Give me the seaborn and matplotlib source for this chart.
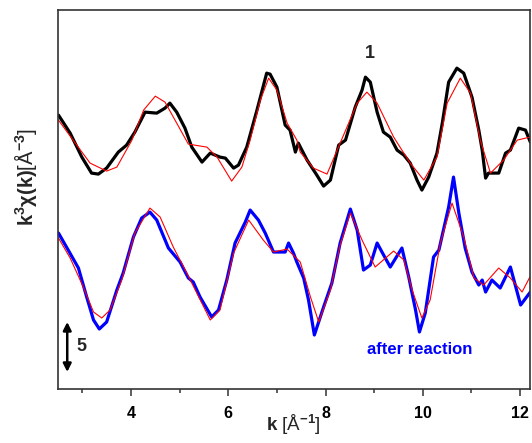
import numpy as np
import pandas as pd
import matplotlib
matplotlib.use("Agg")
import matplotlib.pyplot as plt
import seaborn as sns

# sample 1 (top) data and fit
k_top = [2.51, 2.75, 2.99, 3.19, 3.33, 3.50, 3.74, 3.91, 4.08, 4.29, 4.53, 4.70, 4.80, 4.94,
         5.11, 5.25, 5.46, 5.63, 5.83, 5.94, 6.11, 6.21, 6.38, 6.59, 6.79, 6.86, 7.00, 7.17,
         7.27, 7.38, 7.44, 7.62, 7.82, 7.96, 8.10, 8.27, 8.41, 8.61, 8.75, 8.82, 8.92, 9.06,
         9.19, 9.33, 9.47, 9.61, 9.74, 9.88, 9.98, 10.12, 10.29, 10.40, 10.53, 10.70, 10.84,
         11.01, 11.15, 11.22, 11.29, 11.35, 11.56, 11.70, 11.80, 11.97, 12.11, 12.21]
y_top = [27.4, 25.6, 23.2, 21.6, 21.5, 22.1, 23.7, 24.4, 25.7, 27.7, 27.6, 28.1, 28.6, 27.7,
         26.1, 24.2, 22.7, 23.6, 23.2, 23.1, 22.1, 22.4, 24.2, 27.9, 31.6, 31.5, 30.2, 26.4,
         25.9, 23.7, 24.6, 22.9, 21.4, 20.3, 20.9, 24.4, 24.9, 28.2, 29.9, 31.2, 30.7, 27.7,
         25.7, 25.2, 23.9, 23.4, 22.6, 20.9, 19.9, 21.2, 23.6, 26.6, 30.7, 32.1, 31.6,
         29.2, 25.9, 23.9, 21.1, 21.6, 21.6, 23.6, 23.9, 26.1, 25.9, 24.7]

k_top_fit = [2.51, 2.81, 3.16, 3.50, 3.71, 4.02, 4.26, 4.50, 4.70, 4.94, 5.18, 5.56, 5.77,
             6.07, 6.28, 6.45, 6.66, 6.83, 7.00, 7.21, 7.41, 7.48, 7.75, 8.03, 8.30, 8.65,
             8.85, 9.06, 9.40, 9.74, 10.02, 10.29, 10.50, 10.77, 10.98, 11.18, 11.39, 11.66,
             11.94, 12.20]
y_top_fit = [26.9, 24.9, 22.6, 21.8, 22.2, 24.9, 27.9, 29.3, 28.7, 26.6, 24.5, 24.2, 23.2,
             20.8, 22.2, 24.9, 28.9, 31.1, 29.9, 26.6, 24.9, 23.7, 22.1, 21.5, 24.6, 28.6,
             29.7, 28.6, 25.2, 22.6, 20.9, 23.2, 28.6, 31.1, 29.6, 24.9, 21.6, 22.9,
             24.9, 25.2]

# after reaction (bottom) data and fit
k_bot = [2.51, 2.71, 2.92, 3.09, 3.23, 3.35, 3.50, 3.71, 3.84, 4.05, 4.22, 4.39, 4.53, 4.77,
         5.01, 5.18, 5.28, 5.42, 5.66, 5.80, 5.97, 6.14, 6.35, 6.45, 6.62, 6.76, 6.93, 7.17,
         7.24, 7.34, 7.41, 7.55, 7.65, 7.77, 7.96, 8.13, 8.30, 8.51, 8.65, 8.78, 8.92, 9.06,
         9.16, 9.33, 9.57, 9.71, 9.85, 9.93, 10.05, 10.22, 10.33, 10.53, 10.63, 10.74, 10.87,
         11.01, 11.15, 11.22, 11.29, 11.42, 11.59, 11.80, 12.01, 12.21]
y_bot = [15.6, 13.9, 12.1, 9.2, 6.9, 6.0, 6.7, 9.9, 11.6, 15.2, 17.1, 17.7, 16.9, 14.1,
         12.7, 11.1, 10.7, 9.2, 7.2, 7.9, 10.9, 14.6, 16.7, 17.9, 16.9, 15.6, 13.7, 13.7,
         14.6, 13.6, 12.7, 11.1, 8.9, 5.4, 8.2, 10.6, 14.6, 18.0, 15.9, 11.9, 12.4, 14.6,
         13.7, 12.2, 14.1, 11.2, 7.9, 5.7, 7.6, 13.2, 13.9, 18.2, 21.2, 17.6, 14.1,
         11.7, 10.4, 10.9, 9.7, 10.9, 10.1, 12.2, 8.4, 9.7]

k_bot_fit = [2.51, 2.75, 3.02, 3.23, 3.40, 3.57, 3.81, 4.08, 4.39, 4.60, 4.87, 5.22, 5.63,
             5.83, 6.11, 6.42, 6.72, 6.93, 7.21, 7.48, 7.69, 7.86, 8.10, 8.30, 8.51, 8.75,
             9.02, 9.40, 9.61, 9.78, 9.98, 10.15, 10.36, 10.60, 10.84, 11.05, 11.25, 11.56,
             11.80, 12.04, 12.20]
y_bot_fit = [15.1, 13.1, 10.2, 7.7, 7.1, 7.9, 10.9, 15.6, 18.1, 17.2, 14.2, 10.9, 6.9,
             7.9, 13.6, 16.9, 14.9, 13.7, 14.0, 12.7, 9.2, 6.7, 9.9, 14.4, 17.6, 14.9,
             12.2, 13.8, 12.9, 9.9, 7.1, 8.9, 14.6, 18.6, 15.2, 11.1, 10.4, 12.1,
             11.1, 9.7, 11.2]

x_ticks = [4, 6, 8, 10, 12]

plt.rcParams["mathtext.fontset"] = "custom"
plt.rcParams["mathtext.rm"] = "Liberation Sans"
plt.rcParams["mathtext.bf"] = "Liberation Sans:bold"
plt.rcParams["mathtext.it"] = "Liberation Sans:italic"

sns.set_style("ticks")
plt.rcParams["font.family"] = ["Liberation Sans", "DejaVu Sans"]

fig = plt.figure(figsize=(5.32, 4.43), dpi=100)
ax = fig.add_axes([0.109, 0.122, 0.887, 0.855])

series = [
    (k_top, y_top, "black", 2.3),
    (k_top_fit, y_top_fit, "red", 0.8),
    (k_bot, y_bot, "#0000ff", 2.3),
    (k_bot_fit, y_bot_fit, "red", 0.8),
]
for kk, yy, col, lw in series:
    df = pd.DataFrame({"k": kk, "y": yy})
    sns.lineplot(data=df, x="k", y="y", ax=ax, color=col, linewidth=lw,
                 sort=False, estimator=None)

ax.set_xlim(2.5, 12.2)
ax.set_ylim(0, 37.9)
ax.set_xticks(x_ticks)
ax.set_xticklabels([str(t) for t in x_ticks], fontweight="bold", fontsize=11.5)
ax.set_xticks([3, 5, 7, 9, 11], minor=True)
ax.tick_params(axis="x", which="major", direction="out", length=5, width=1.1, pad=7,
               colors="#333333", labelcolor="black")
ax.tick_params(axis="x", which="minor", direction="out", length=3, width=1.1,
               colors="#333333")
ax.set_yticks([])
for s in ax.spines.values():
    s.set_linewidth(1.2)
    s.set_color("#333333")
    s.set_visible(True)

ax.set_xlabel(r"$\mathbf{k}$ [Å$^{\mathbf{-1}}$]", fontsize=13.5)
ax.xaxis.set_label_coords(0.5, -0.062)
ax.set_ylabel(r"$\mathbf{k^3\chi(k)}$[Å$^{\mathbf{-3}}$]", fontsize=14.5)
ax.yaxis.set_label_coords(-0.04, 0.56)

ax.annotate("", xy=(2.69, 1.7), xytext=(2.69, 6.7),
            arrowprops=dict(arrowstyle="<|-|>", color="black", lw=1.8,
                            mutation_scale=12, shrinkA=0, shrinkB=0))
ax.text(2.88, 4.2, "5", fontsize=13, fontweight="bold", va="center", ha="left")
ax.text(8.92, 33.6, "1", fontsize=13, fontweight="bold", va="center", ha="center")
ax.text(8.86, 3.9, "after reaction", fontsize=12, fontweight="bold",
        color="#0000ff", va="center", ha="left")

fig.savefig("out.png", dpi=100)
